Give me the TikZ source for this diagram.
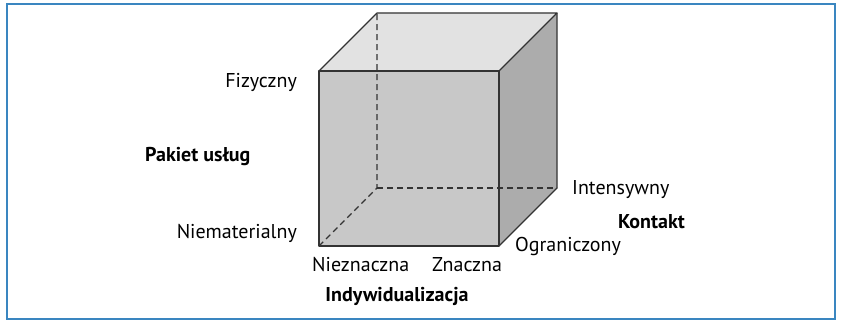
\documentclass[tikz,border=0pt]{standalone}
\usepackage{fontspec}
\setmainfont{PT Sans}
\usetikzlibrary{positioning}

\definecolor{ramka}{RGB}{58,134,192}
\definecolor{przod}{RGB}{200,200,200}
\definecolor{gora}{RGB}{226,226,226}
\definecolor{bok}{RGB}{172,172,172}

\begin{document}
\begin{tikzpicture}[x=1pt,y=-1pt,
	lbl/.style={inner sep=0pt,font=\fontsize{20}{24}\selectfont},
	tyt/.style={lbl,font=\fontsize{20}{24}\selectfont\bfseries},
	krawedz/.style={line width=1.2pt,black!80},
	ukryta/.style={krawedz,dash pattern=on 6pt off 4pt}]
	\useasboundingbox (0,0) rectangle (841,323);
	\draw[ramka,line width=2pt] (7,4) rectangle (835,319);

	% szescian: przednia sciana i przesuniecie do tylu
	\coordinate (A) at (319,246);
	\coordinate (B) at (499,246);
	\coordinate (C) at (499,71);
	\coordinate (D) at (319,71);
	\coordinate (E) at (377,188);
	\coordinate (F) at (557,188);
	\coordinate (G) at (557,13);
	\coordinate (H) at (377,13);

	\fill[przod] (A) -- (B) -- (C) -- (D) -- cycle;
	\fill[gora] (D) -- (C) -- (G) -- (H) -- cycle;
	\fill[bok] (B) -- (F) -- (G) -- (C) -- cycle;

	\draw[ukryta] (A) -- (E) -- (H);
	\draw[ukryta] (E) -- (F);
	\draw[krawedz,line join=round] (A) -- (B) -- (C) -- (D) -- cycle;
	\draw[krawedz,line join=round] (D) -- (H) -- (G) -- (C);
	\draw[krawedz,line join=round] (G) -- (F) -- (B);

	% opisy osi
	\node[lbl,anchor=east] (fiz) at (297,82) {Fizyczny};
	\node[tyt,anchor=west] (pakiet) at (145,157) {Pakiet usług};
	\node[lbl,anchor=east] (niemat) at (297,233) {Niematerialny};
	\node[lbl,anchor=west] (niezn) at (312,265) {Nieznaczna};
	\node[lbl,anchor=west] (znaczna) at (432,265) {Znaczna};
	\node[tyt] (indyw) at (397,296) {Indywidualizacja};
	\node[lbl,anchor=west] (intens) at (572,190) {Intensywny};
	\node[tyt,anchor=east] (kontakt) at (685,222) {Kontakt};
	\node[lbl,anchor=west] (ogran) at (515,247) {Ograniczony};
\end{tikzpicture}
\end{document}
